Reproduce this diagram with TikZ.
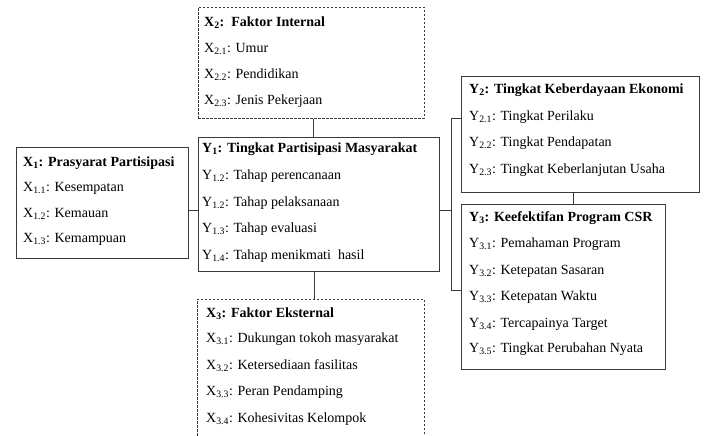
\documentclass[tikz,border=0pt]{standalone}
\usepackage{fontspec}
\setmainfont{Liberation Serif}
\definecolor{lc}{HTML}{3A3A3A}
\begin{document}
\begin{tikzpicture}[x=1pt,y=-1pt,
  box/.style={draw=lc, line width=0.8pt, anchor=north west, inner sep=0pt},
  dbox/.style={box, dash pattern=on 2.5pt off 1.5pt},
  conn/.style={draw=lc, line width=0.8pt},
  txt/.style={anchor=base west, inner sep=0pt, font=\fontsize{14}{16}\selectfont},
  ttl/.style={anchor=base west, inner sep=0pt, font=\fontsize{14}{16}\selectfont\bfseries}]
\useasboundingbox[fill=white] (0,0) rectangle (707,436);
\clip (0,0) rectangle (707,436);

% boxes
\node[dbox, minimum width=226pt, minimum height=111pt] (x2) at (198,7) {};
\node[box, minimum width=172pt, minimum height=111pt] (x1) at (16,147) {};
\node[box, minimum width=241pt, minimum height=134pt] (y1) at (198,137) {};
\node[box, minimum width=238pt, minimum height=116pt] (y2) at (461,76) {};
\node[box, minimum width=204pt, minimum height=165pt] (y3) at (461,204) {};
\node[dbox, minimum width=227pt, minimum height=160pt] (x3) at (197,299) {};

% X2
\node[ttl] (x2t) at (204,26.5) {X\textsubscript{2}:\ \ Faktor Internal};
\node[txt] (x2a) at (204,52.5) {X\textsubscript{2.1}: Umur};
\node[txt] (x2b) at (204,78.5) {X\textsubscript{2.2}: Pendidikan};
\node[txt] (x2c) at (204,104.5) {X\textsubscript{2.3}: Jenis Pekerjaan};

% X1
\node[ttl] (x1t) at (23,166.5) {X\textsubscript{1}: Prasyarat Partisipasi};
\node[txt] (x1a) at (23,191.5) {X\textsubscript{1.1}: Kesempatan};
\node[txt] (x1b) at (23,217.5) {X\textsubscript{1.2}: Kemauan};
\node[txt] (x1c) at (23,242.5) {X\textsubscript{1.3}: Kemampuan};

% Y1
\node[ttl] (y1t) at (202,152.5) {Y\textsubscript{1}: Tingkat Partisipasi Masyarakat};
\node[txt] (y1a) at (202,179.5) {Y\textsubscript{1.2}: Tahap perencanaan};
\node[txt] (y1b) at (202,206) {Y\textsubscript{1.2}: Tahap pelaksanaan};
\node[txt] (y1c) at (202,232.5) {Y\textsubscript{1.3}: Tahap evaluasi};
\node[txt] (y1d) at (202,259) {Y\textsubscript{1.4}: Tahap menikmati\ \ hasil};

% Y2
\node[ttl] (y2t) at (469,93.5) {Y\textsubscript{2}: Tingkat Keberdayaan Ekonomi};
\node[txt] (y2a) at (469,120.5) {Y\textsubscript{2.1}: Tingkat Perilaku};
\node[txt] (y2b) at (469,146.5) {Y\textsubscript{2.2}: Tingkat Pendapatan};
\node[txt] (y2c) at (469,173) {Y\textsubscript{2.3}: Tingkat Keberlanjutan Usaha};

% Y3
\node[ttl] (y3t) at (469,221.5) {Y\textsubscript{3}: Keefektifan Program CSR};
\node[txt] (y3a) at (469,247.5) {Y\textsubscript{3.1}: Pemahaman Program};
\node[txt] (y3b) at (469,274) {Y\textsubscript{3.2}: Ketepatan Sasaran};
\node[txt] (y3c) at (469,300.5) {Y\textsubscript{3.3}: Ketepatan Waktu};
\node[txt] (y3d) at (469,327) {Y\textsubscript{3.4}: Tercapainya Target};
\node[txt] (y3e) at (469,352.5) {Y\textsubscript{3.5}: Tingkat Perubahan Nyata};

% X3
\node[ttl] (x3t) at (206,317.5) {X\textsubscript{3}: Faktor Eksternal};
\node[txt] (x3a) at (206,342.5) {X\textsubscript{3.1}: Dukungan tokoh masyarakat};
\node[txt] (x3b) at (206,369.5) {X\textsubscript{3.2}: Ketersediaan fasilitas};
\node[txt] (x3c) at (206,395.5) {X\textsubscript{3.3}: Peran Pendamping};
\node[txt] (x3d) at (206,422.5) {X\textsubscript{3.4}: Kohesivitas Kelompok};

% connectors
\coordinate (ja) at (313,0);
\coordinate (jb) at (314,0);
\coordinate (jc) at (573,0);
\coordinate (j) at (451,210);
\coordinate (bt) at (451,118);
\coordinate (bb) at (451,290);
\draw[conn] (x2.south -| ja) -- (y1.north -| ja);
\draw[conn] (y1.south -| jb) -- (x3.north -| jb);
\draw[conn] (x1.east |- j) -- (y1.west |- j);
\draw[conn] (y1.east |- j) -- (j);
\draw[conn] (y2.west |- bt) -- (bt) -- (bb) -- (y3.west |- bb);
\draw[conn] (y2.south -| jc) -- (y3.north -| jc);
\end{tikzpicture}
\end{document}
